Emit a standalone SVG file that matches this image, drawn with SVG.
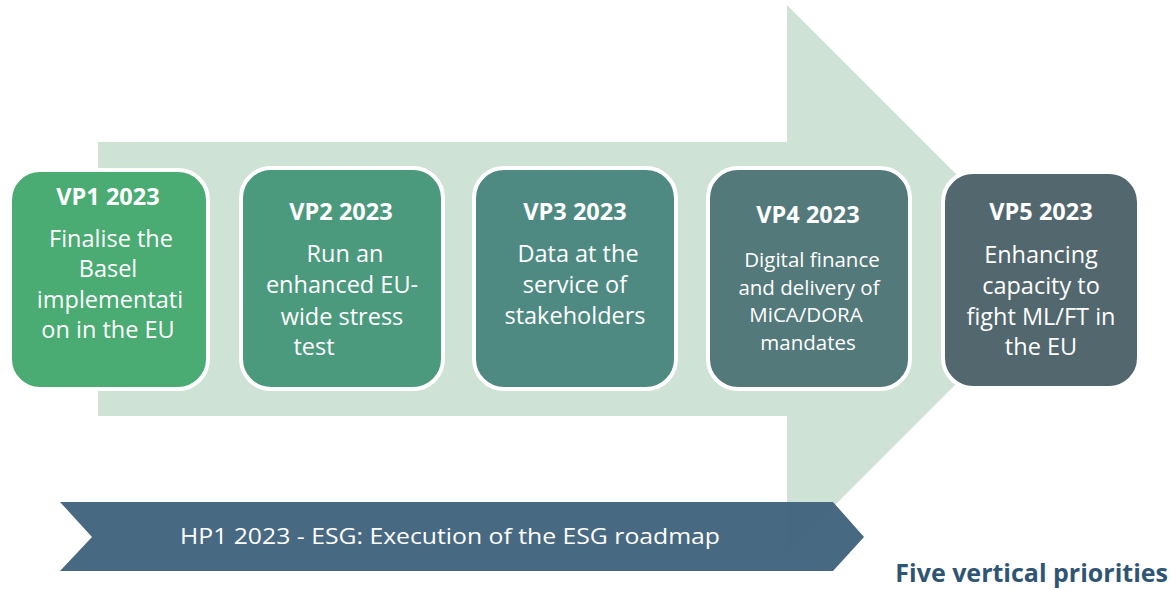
<svg xmlns="http://www.w3.org/2000/svg" width="1176" height="590" viewBox="0 0 1176 590">
<style>
.box{stroke:#ffffff;stroke-width:4}
.t{font-family:"Open Sans","Noto Sans",sans-serif;fill:#ffffff;text-anchor:middle}
.h{font-weight:bold;font-size:23.5px}
.b{font-size:23.5px}
.s{font-size:20.5px}
</style>
<rect width="1176" height="590" fill="#ffffff"/>
<g id="arrow">
<path d="M98,142 H787 V5 L1061,279 L787,553 V416 H98 Z" fill="#cfe2d6"/>
</g>
<g id="hp1">
<path d="M60,502 H833 L864,537 L833,571 H60 L92,537 Z" fill="#42647e" fill-opacity="0.97"/>
<text class="t" x="450" y="544" style="font-size:21px" textLength="540" lengthAdjust="spacingAndGlyphs">HP1 2023 - ESG: Execution of the ESG roadmap</text>
</g>
<g id="vp1">
<rect class="box" x="10" y="170" width="198" height="219" rx="30" fill="#4aab73"/>
<text class="t h" x="108" y="205">VP1 2023</text>
<text class="t b" x="111" y="247">Finalise the</text>
<text class="t b" x="108" y="277">Basel</text>
<text class="t b" x="110" y="308">implementati</text>
<text class="t b" x="108" y="338">on in the EU</text>
</g>
<g id="vp2">
<rect class="box" x="241" y="168" width="202" height="221" rx="30" fill="#4c9a7e"/>
<text class="t h" x="341" y="220">VP2 2023</text>
<text class="t b" x="345" y="262">Run an</text>
<text class="t b" x="342" y="293">enhanced EU-</text>
<text class="t b" x="342" y="325">wide stress</text>
<text class="t b" x="314" y="355">test</text>
</g>
<g id="vp3">
<rect class="box" x="474" y="168" width="202" height="221" rx="30" fill="#4e8a82"/>
<text class="t h" x="575" y="220">VP3 2023</text>
<text class="t b" x="578" y="262">Data at the</text>
<text class="t b" x="575" y="293">service of</text>
<text class="t b" x="575" y="324">stakeholders</text>
</g>
<g id="vp4">
<rect class="box" x="708" y="168" width="202" height="221" rx="30" fill="#53797a"/>
<text class="t h" x="808" y="223">VP4 2023</text>
<text class="t s" x="812" y="267">Digital finance</text>
<text class="t s" x="809" y="295">and delivery of</text>
<text class="t s" x="806" y="322">MiCA/DORA</text>
<text class="t s" x="808" y="350">mandates</text>
</g>
<g id="vp5">
<rect class="box" x="943" y="172" width="196" height="216" rx="30" fill="#52676e"/>
<text class="t h" x="1041" y="220">VP5 2023</text>
<text class="t b" x="1041" y="263">Enhancing</text>
<text class="t b" x="1041" y="294">capacity to</text>
<text class="t b" x="1041" y="325">fight ML/FT in</text>
<text class="t b" x="1041" y="355">the EU</text>
</g>
<g id="connectors"></g>
<text x="1168" y="582" style="font-family:'Open Sans','Noto Sans',sans-serif;font-weight:bold;font-size:25px;fill:#2f5575;text-anchor:end">Five vertical priorities</text>
</svg>
